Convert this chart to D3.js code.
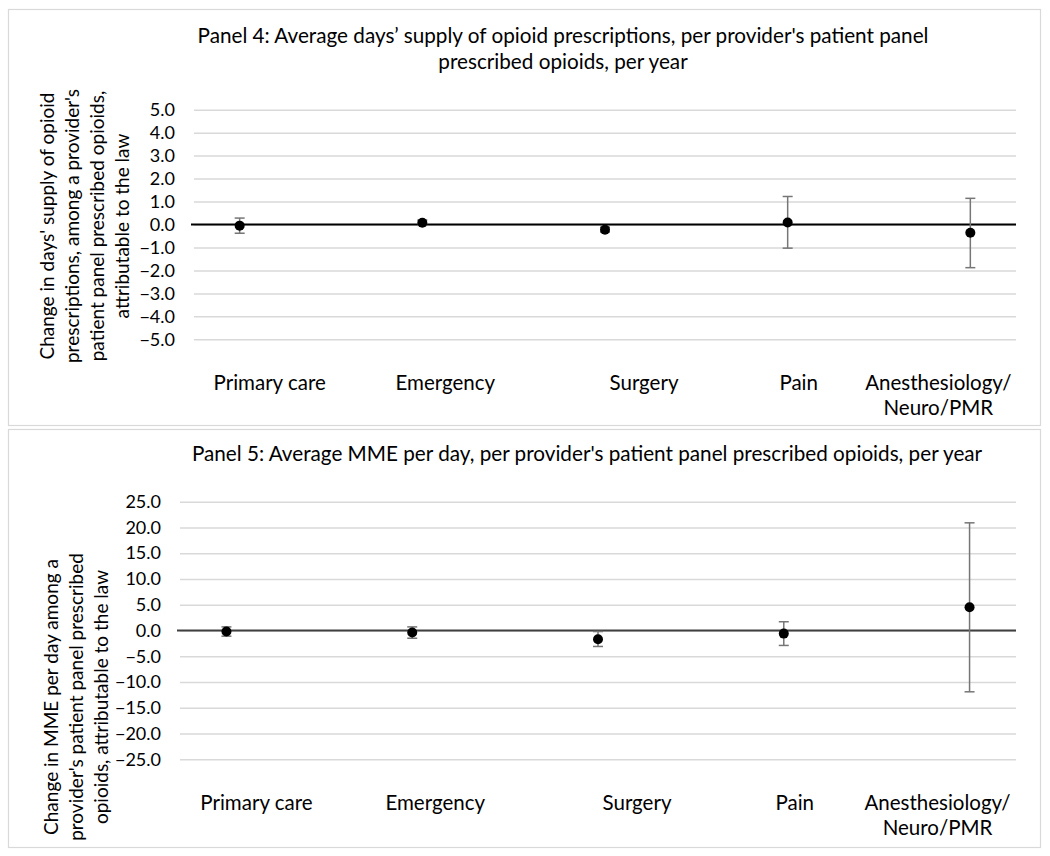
<!DOCTYPE html>
<html>
<head>
<meta charset="utf-8">
<script src="https://cdn.jsdelivr.net/npm/d3@7"></script>
<style>
  body { margin: 0; background: #fff; }
  svg text { font-family: Lato, "Open Sans", sans-serif; fill: #000; }
</style>
</head>
<body>
<svg id="chart" width="1050" height="856"></svg>
<script>
let categories = ["Primary care", "Emergency", "Surgery", "Pain", "Anesthesiology/|Neuro/PMR"];

// panel 4: days' supply
let daysEst = [-0.05, 0.08, -0.23, 0.09, -0.36];
let daysLow = [-0.38, -0.04, -0.33, -1.03, -1.88];
let daysHigh = [0.28, 0.19, -0.12, 1.22, 1.14];
let daysTicks = [5, 4, 3, 2, 1, 0, -1, -2, -3, -4, -5];

// panel 5: MME per day
let mmeEst = [-0.2, -0.4, -1.7, -0.6, 4.5];
let mmeLow = [-1.1, -1.5, -3.1, -2.9, -11.9];
let mmeHigh = [0.7, 0.7, -0.2, 1.7, 20.9];
let mmeTicks = [25, 20, 15, 10, 5, 0, -5, -10, -15, -20, -25];

let panel4Title = ["Panel 4: Average days\u2019 supply of opioid prescriptions, per provider's patient panel",
                   "prescribed opioids, per year"];
let panel4YTitle = ["Change in days' supply of opioid", "prescriptions, among a provider's",
                    "patient panel prescribed  opioids,", "attributable to the law"];
let panel5Title = ["Panel 5: Average MME per day, per provider's patient panel prescribed opioids, per year"];
let panel5YTitle = ["Change in MME per day among a", "provider's patient panel prescribed",
                    "opioids, attributable to the law"];

// category labels sit a little off the markers (text boxes in the original)
let labelNudge = [30, 23, 39, 11, -32];

let svg = d3.select("#chart");

let drawPanel = function(cfg) {
    let g = svg.append("g");

    g.append("rect")
        .attr("x", 8.5).attr("y", cfg.top + 0.5)
        .attr("width", 1032).attr("height", cfg.height)
        .attr("fill", "#fff")
        .attr("stroke", "#d9d9d9")
        .attr("stroke-width", 1.2);

    let x = d3.scalePoint()
        .domain(categories)
        .range([cfg.left, 1016])
        .padding(0.25);
    let y = d3.scaleLinear()
        .domain([d3.min(cfg.ticks), d3.max(cfg.ticks)])
        .range([cfg.bottom, cfg.plotTop]);

    // gridlines + tick labels
    let yAxis = g.append("g")
        .attr("transform", "translate(" + cfg.left + ",0)")
        .call(d3.axisLeft(y)
            .tickValues(cfg.ticks)
            .tickFormat(d3.format(".1f"))
            .tickSize(-(1016 - cfg.left))
            .tickPadding(cfg.pad));
    yAxis.select(".domain").remove();
    yAxis.selectAll(".tick line")
        .attr("stroke", "#d9d9d9")
        .attr("stroke-width", 1.5);
    yAxis.selectAll(".tick text")
        .style("font-size", "18px")
        .attr("fill", "#000");

    // zero line
    g.append("line")
        .attr("x1", cfg.left - 3).attr("x2", 1016)
        .attr("y1", y(0)).attr("y2", y(0))
        .attr("stroke", cfg.zeroColor)
        .attr("stroke-width", 1.8);

    let rows = categories.map(function(c, i) {
        return {cat: c, est: cfg.est[i], lo: cfg.low[i], hi: cfg.high[i], i: i};
    });

    // error bars
    let bars = g.append("g").selectAll("g").data(rows).enter().append("g")
        .attr("stroke", "#767676")
        .attr("stroke-width", 1.5);
    bars.append("line")
        .attr("x1", function(d) { return x(d.cat); })
        .attr("x2", function(d) { return x(d.cat); })
        .attr("y1", function(d) { return y(d.lo); })
        .attr("y2", function(d) { return y(d.hi); });
    bars.append("line")
        .attr("x1", function(d) { return x(d.cat) - 5; })
        .attr("x2", function(d) { return x(d.cat) + 5; })
        .attr("y1", function(d) { return y(d.lo); })
        .attr("y2", function(d) { return y(d.lo); });
    bars.append("line")
        .attr("x1", function(d) { return x(d.cat) - 5; })
        .attr("x2", function(d) { return x(d.cat) + 5; })
        .attr("y1", function(d) { return y(d.hi); })
        .attr("y2", function(d) { return y(d.hi); });

    // point estimates
    g.append("g").selectAll("circle").data(rows).enter().append("circle")
        .attr("cx", function(d) { return x(d.cat); })
        .attr("cy", function(d) { return y(d.est); })
        .attr("r", 5)
        .attr("fill", "#000");

    // category labels
    let labels = g.append("g").selectAll("text").data(rows).enter().append("text")
        .attr("text-anchor", "middle")
        .attr("transform", function(d) {
            return "translate(" + (x(d.cat) + labelNudge[d.i]) + "," + cfg.labelY + ")";
        })
        .style("font-size", "20.5px");
    labels.selectAll("tspan")
        .data(function(d) { return d.cat.split("|"); })
        .enter().append("tspan")
        .attr("x", 0)
        .attr("dy", function(d, i) { return i === 0 ? 0 : 25; })
        .text(function(d) { return d; });

    // title
    g.append("text")
        .attr("text-anchor", "middle")
        .attr("transform", "translate(" + cfg.titleX + "," + cfg.titleY + ")")
        .style("font-size", "20.7px")
        .selectAll("tspan").data(cfg.title).enter().append("tspan")
        .attr("x", 0)
        .attr("dy", function(d, i) { return i === 0 ? 0 : 26; })
        .text(function(d) { return d; });

    // y axis title
    g.append("text")
        .attr("text-anchor", "middle")
        .attr("transform", "translate(" + cfg.yTitleX + "," + cfg.yTitleY + ") rotate(-90)")
        .style("font-size", "19px")
        .selectAll("tspan").data(cfg.yTitle).enter().append("tspan")
        .attr("x", 0)
        .attr("dy", function(d, i) { return i === 0 ? 0 : 25; })
        .text(function(d) { return d; });
};

drawPanel({
    top: 9, height: 416,
    left: 194, plotTop: 109.7, bottom: 339.3, pad: 19,
    ticks: daysTicks, est: daysEst, low: daysLow, high: daysHigh,
    zeroColor: "#000",
    labelY: 390,
    title: panel4Title, titleX: 563, titleY: 43,
    yTitle: panel4YTitle, yTitleX: 54, yTitleY: 226
});

drawPanel({
    top: 429, height: 418,
    left: 180, plotTop: 501.7, bottom: 759.3, pad: 19,
    ticks: mmeTicks, est: mmeEst, low: mmeLow, high: mmeHigh,
    zeroColor: "#404040",
    labelY: 810,
    title: panel5Title, titleX: 587, titleY: 461,
    yTitle: panel5YTitle, yTitleX: 58, yTitleY: 697
});
</script>
</body>
</html>
